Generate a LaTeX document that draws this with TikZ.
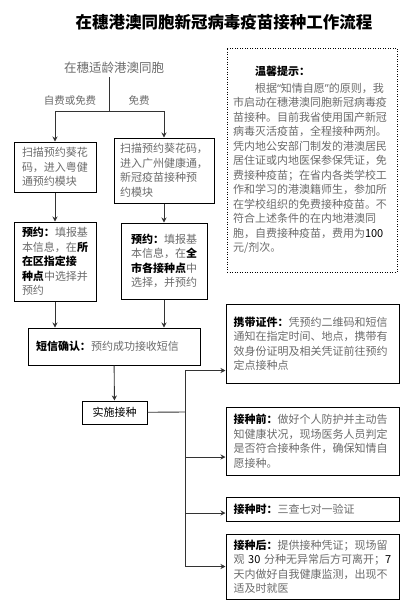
\documentclass[tikz,border=0pt]{standalone}
\usepackage{fontspec}
\setmainfont{Noto Sans CJK SC}
\newfontfamily\latinfont{Noto Sans}
\usetikzlibrary{arrows.meta}
\definecolor{textgray}{HTML}{6B6B6B}
\definecolor{linegray}{HTML}{333333}
\tikzset{
    box/.style={draw, line width=1pt, inner xsep=4pt, inner ysep=2pt,
                align=left, text=textgray,
                font={\fontsize{11}{14.5}\selectfont}},
    tipbox/.style={box, dash pattern=on 1pt off 1.5pt, line width=0.9pt},
    flow/.style={-{Stealth[length=5pt,width=5pt]}, line width=0.9pt, draw=linegray},
    link/.style={line width=0.9pt, draw=linegray},
    note/.style={text=textgray, font={\fontsize{10.5}{12}\selectfont}},
}
\newcommand{\keyword}[1]{\textcolor{black}{\bfseries #1}}
\newcommand{\digits}[1]{\textcolor{black}{#1}}

\begin{document}
\begin{tikzpicture}[x=1pt, y=-1pt]
    \useasboundingbox (0,0) rectangle (416,606);

    \node[font={\fontsize{16.5}{18}\selectfont\bfseries}] (title) at (224,22)
        {在穗港澳同胞新冠病毒疫苗接种工作流程};

    \node[note, font={\fontsize{12.5}{14}\selectfont}] (group) at (114,68) {在穗适龄港澳同胞};
    \coordinate (split) at (109,111);
    \node[note] (paidlabel) at (70,100) {自费或免费};
    \node[note] (freelabel) at (139,100) {免费};

    \node[box, minimum width=82pt, minimum height=50pt, text width=66pt] (scanL) at (55,167)
        {扫描预约葵花\\码，进入粤健\\通预约模块};
    \node[box, minimum width=100pt, minimum height=65pt, text width=88pt] (scanR) at (164,170.5)
        {扫描预约葵花码，\\进入广州健康通，\\新冠疫苗接种预\\约模块};
    \node[box, minimum width=82pt, minimum height=79pt, text width=66pt] (bookL) at (55,261.5)
        {\keyword{预约：}填报基\\本信息，在\keyword{所}\\\keyword{在区指定接}\\\keyword{种点}中选择并\\预约};
    \node[box, minimum width=86pt, minimum height=76pt, text width=66pt] (bookR) at (164,261)
        {\keyword{预约：}填报基\\本信息，在\keyword{全}\\\keyword{市各接种点}中\\选择，并预约};

    \node[box, minimum width=172pt, minimum height=37pt, text width=156pt] (sms) at (114,346.5)
        {\keyword{短信确认：}预约成功接收短信};
    \node[box, text=black, minimum width=65pt, minimum height=23pt] (impl) at (114.5,412.5)
        {实施接种};
    \coordinate (trunk) at (185,412);

    \node[tipbox, minimum width=170pt, minimum height=224pt, text width=158pt] (tips) at (312,160)
        {\hspace*{2em}\keyword{温馨提示：}\\[2pt]
         \hspace*{2em}根据{\latinfont “}知情自愿{\latinfont ”}的原则，我\\
         市启动在穗港澳同胞新冠病毒疫\\
         苗接种。目前我省使用国产新冠\\
         病毒灭活疫苗，全程接种两剂。\\
         凭内地公安部门制发的港澳居民\\
         居住证或内地医保参保凭证，免\\
         费接种疫苗；在省内各类学校工\\
         作和学习的港澳籍师生，参加所\\
         在学校组织的免费接种疫苗。不\\
         符合上述条件的在内地港澳同\\
         胞，自费接种疫苗，费用为\digits{100}\\
         元/剂次。};

    \node[box, minimum width=173pt, minimum height=79pt, text width=158pt] (carry) at (312.5,343.5)
        {\keyword{携带证件：}凭预约二维码和短信\\通知在指定时间、地点，携带有\\效身份证明及相关凭证前往预约\\定点接种点};
    \node[box, minimum width=173pt, minimum height=68pt, text width=158pt] (before) at (312.5,441)
        {\keyword{接种前：}做好个人防护并主动告\\知健康状况，现场医务人员判定\\是否符合接种条件，确保知情自\\愿接种。};
    \node[box, minimum width=173pt, minimum height=24pt, text width=158pt] (during) at (312.5,509)
        {\keyword{接种时：}三查七对一验证};
    \node[box, minimum width=173pt, minimum height=65pt, text width=158pt] (after) at (312.5,566.5)
        {\keyword{接种后：}提供接种凭证；现场留\\\mbox{观~\digits{30}~分种无异常后方可离开；\digits{7}}\\天内做好自我健康监测，出现不\\适及时就医};

    \draw[link] (group.south -| split) -- (split);
    \draw[flow] (split) -| (scanL.north);
    \draw[flow] (split) -| (scanR.north);
    \draw[flow] (scanL) -- (bookL);
    \draw[flow] (scanR) -- (bookR);
    \draw[flow] (bookL.south) -- (bookL.south |- sms.north);
    \draw[flow] (bookR.south) -- (bookR.south |- sms.north);
    \draw[flow] (sms) -- (impl);
    \draw[link] (impl) -- (trunk);
    \draw[flow] (trunk) |- ([yshift=13pt]carry.south west);
    \draw[flow] (trunk) |- ([yshift=-16pt]before.west);
    \draw[flow] (trunk) |- ([yshift=-4pt]during.west);
    \draw[flow] (trunk) |- (after.west);
\end{tikzpicture}
\end{document}
